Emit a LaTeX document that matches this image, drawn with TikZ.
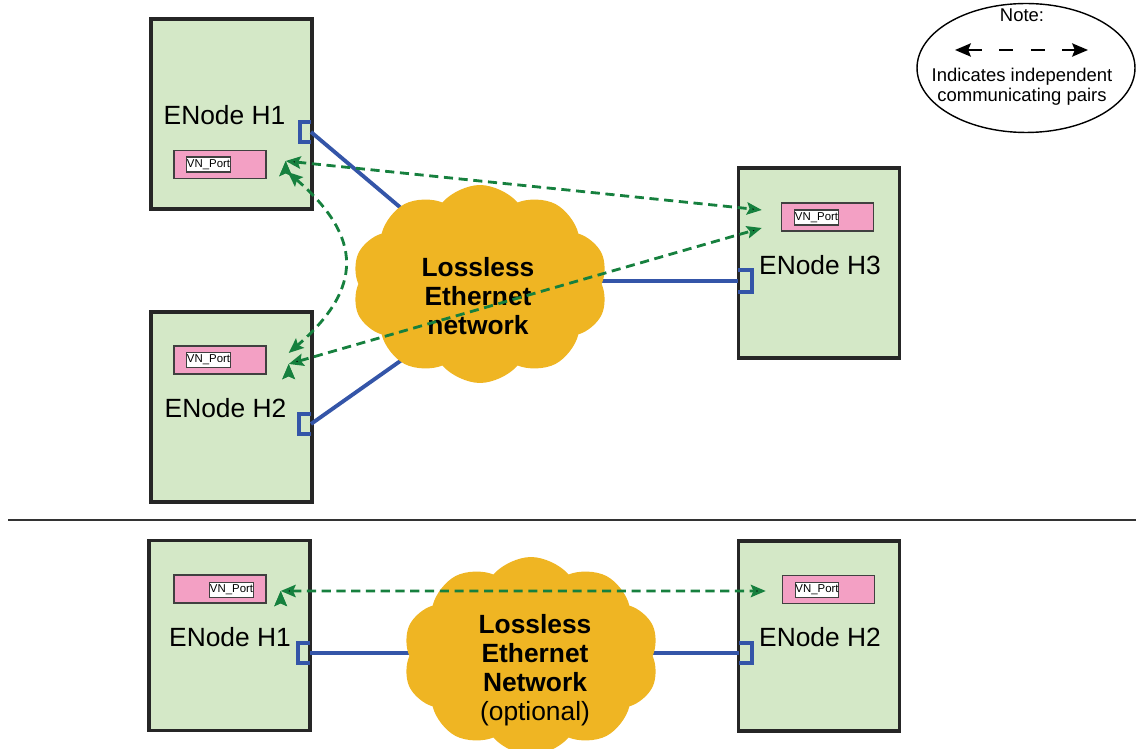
\documentclass[tikz,border=0pt]{standalone}
\usepackage{fontspec}
\setmainfont{Liberation Sans}
\usepackage{tikz}
\usetikzlibrary{arrows.meta}
\usetikzlibrary{shapes}
\definecolor{hostgreen}{RGB}{212,232,199}
\definecolor{vnpink}{RGB}{243,160,196}
\definecolor{lanyellow}{RGB}{239,181,35}
\definecolor{linkblue}{RGB}{52,85,168}
\definecolor{pairgreen}{RGB}{22,128,62}
\tikzset{host/.style={draw=black!85,line width=1.8pt,fill=hostgreen,minimum width=3.22cm,minimum height=3.8cm,inner sep=0pt}}
\tikzset{vnbox/.style={draw=black!75,line width=0.8pt,fill=vnpink,minimum width=1.84cm,minimum height=0.56cm,inner sep=0pt}}
\tikzset{vntag/.style={draw=black!75,line width=0.6pt,fill=white,minimum width=0.86cm,minimum height=0.3cm,inner sep=0pt,font=\fontsize{6.5}{7}\selectfont}}
\tikzset{hostname/.style={inner sep=0pt,font=\fontsize{15}{16.5}\selectfont}}
\tikzset{lan/.style={cloud,cloud puffs=10,cloud puff arc=100,cloud ignores aspect,fill=lanyellow,inner sep=0pt,minimum width=5.12cm,minimum height=3.96cm}}
\tikzset{lantext/.style={align=center,inner sep=0pt,font=\fontsize{15}{16.4}\selectfont\bfseries}}

\begin{document}
\begin{tikzpicture}[%
		x = 0.02cm, y = -0.02cm, % one unit per pixel, y downwards
		> = {Stealth[length=8.5pt,width=7pt,inset=1.5pt]}, % arrow head style
		link/.style = {draw=linkblue, line width=2.2pt},
		portline/.style = {draw=linkblue, line width=1.8pt}
		]
		
		\tikzstyle{pair}=[
		<->,
		draw = pairgreen,
		line width = 1.6pt,
		dash pattern = on 5.2pt off 3.2pt
		]
		
		\useasboundingbox (0,0) rectangle (1136,749);
		\clip (0,0) rectangle (1136,749);
		
		% Hosts (top)
		\node[host] (h1) at (231.5,114) {};
		\node[hostname] (h1name) at (224.5,115) {ENode H1};
		\node[vnbox] (h1vn) at (220,164.5) {};
		\node[vntag] (h1tag) at (208.5,164.5) {VN\_Port};
		
		\node[host] (h2) at (231.5,407) {};
		\node[hostname] (h2name) at (225.5,408) {ENode H2};
		\node[vnbox] (h2vn) at (220,360) {};
		\node[vntag] (h2tag) at (208.5,360) {VN\_Port};
		
		\node[host] (h3) at (819,263) {};
		\node[hostname] (h3name) at (820,265) {ENode H3};
		\node[vnbox] (h3vn) at (827.5,217) {};
		\node[vntag] (h3tag) at (816.5,217.5) {VN\_Port};
		
		% Hosts (bottom)
		\node[host] (b1) at (229.5,635.5) {};
		\node[hostname] (b1name) at (230,637) {ENode H1};
		\node[vnbox] (b1vn) at (220,589) {};
		\node[vntag] (b1tag) at (231.5,590) {VN\_Port};
		
		\node[host] (b2) at (819,636) {};
		\node[hostname] (b2name) at (820,637) {ENode H2};
		\node[vnbox] (b2vn) at (828.5,589.5) {};
		\node[vntag] (b2tag) at (817,590) {VN\_Port};
		
		% Ports
		\coordinate (h1port) at (311,132);
		\coordinate (h2port) at (311,424);
		\coordinate (h3port) at (738,281);
		\coordinate (b1port) at (310,653);
		\coordinate (b2port) at (739,653);
		\draw[portline] (h1port) ++(0,-10) -| ++(-11,20) -- ++(11,0);
		\draw[portline] (h2port) ++(0,-10) -| ++(-12,20) -- ++(12,0);
		\draw[portline] (h3port) ++(0,-11) -| ++(14,22) -- ++(-14,0);
		\draw[portline] (b1port) ++(0,-10) -| ++(-12,20) -- ++(12,0);
		\draw[portline] (b2port) ++(0,-10) -| ++(13,20) -- ++(-13,0);
		
		% Links
		\coordinate (lanA) at (440,241);
		\coordinate (lanB) at (440,333);
		\coordinate (lanC) at (560,281);
		\coordinate (blanA) at (450,653);
		\coordinate (blanB) at (620,653);
		\draw[link] (h1port) -- (lanA);
		\draw[link] (h2port) -- (lanB);
		\draw[link] (h3port) -- (lanC);
		\draw[link] (b1port) -- (blanA);
		\draw[link] (b2port) -- (blanB);
		
		% Clouds
		\node[lan] (lan) at (480,284) {};
		\node[lantext] (lantxt) at (478,296) {Lossless\\Ethernet\\network};
		\node[lan] (blan) at (531,656) {};
		\node[lantext] (blantxt) at (535,670) {Lossless\\Ethernet\\Network\\{\mdseries (optional)}};
		
		% Communicating pairs
		\path[pair] ([xshift=0.38cm,yshift=0.07cm]h1vn.east) edge ([xshift=-0.38cm,yshift=0.14cm]h3vn.west);
		\path[pair] ([xshift=0.44cm,yshift=-0.08cm]h2vn.east) edge ([xshift=-0.38cm,yshift=-0.22cm]h3vn.west);
		\draw[pair] ([xshift=0.42cm,yshift=-0.15cm]h1vn.east) .. controls +(75,65) and +(75,-65) .. ([xshift=0.44cm,yshift=0.14cm]h2vn.east);
		\path[pair] ([xshift=0.28cm,yshift=-0.04cm]b1vn.east) edge ([xshift=-0.32cm,yshift=-0.03cm]b2vn.west);
		
		% Separator
		\draw[black!80, line width=1pt] (8,520) -- (1136,520);
		
		% Note
		\node[draw, ellipse, line width=0.8pt, minimum width=4.36cm, minimum height=2.58cm] (note) at (1026,68) {};
		\node[font=\fontsize{10.5}{11.3}\selectfont, inner sep=0pt] (notehead) at (1022,15) {Note:};
		\node[font=\fontsize{10.5}{11.3}\selectfont, align=center, inner sep=0pt] (notetext) at (1022,87) {Indicates independent\\communicating pairs};
		\coordinate (noteL) at (955,50);
		\coordinate (noteR) at (1088,50);
		\draw[<->, line width=1.3pt, dash pattern=on 8pt off 10pt, > = {Stealth[length=9pt,width=7.5pt,inset=1.5pt]}] (noteL) -- (noteR);
		\end{tikzpicture}
\end{document}
